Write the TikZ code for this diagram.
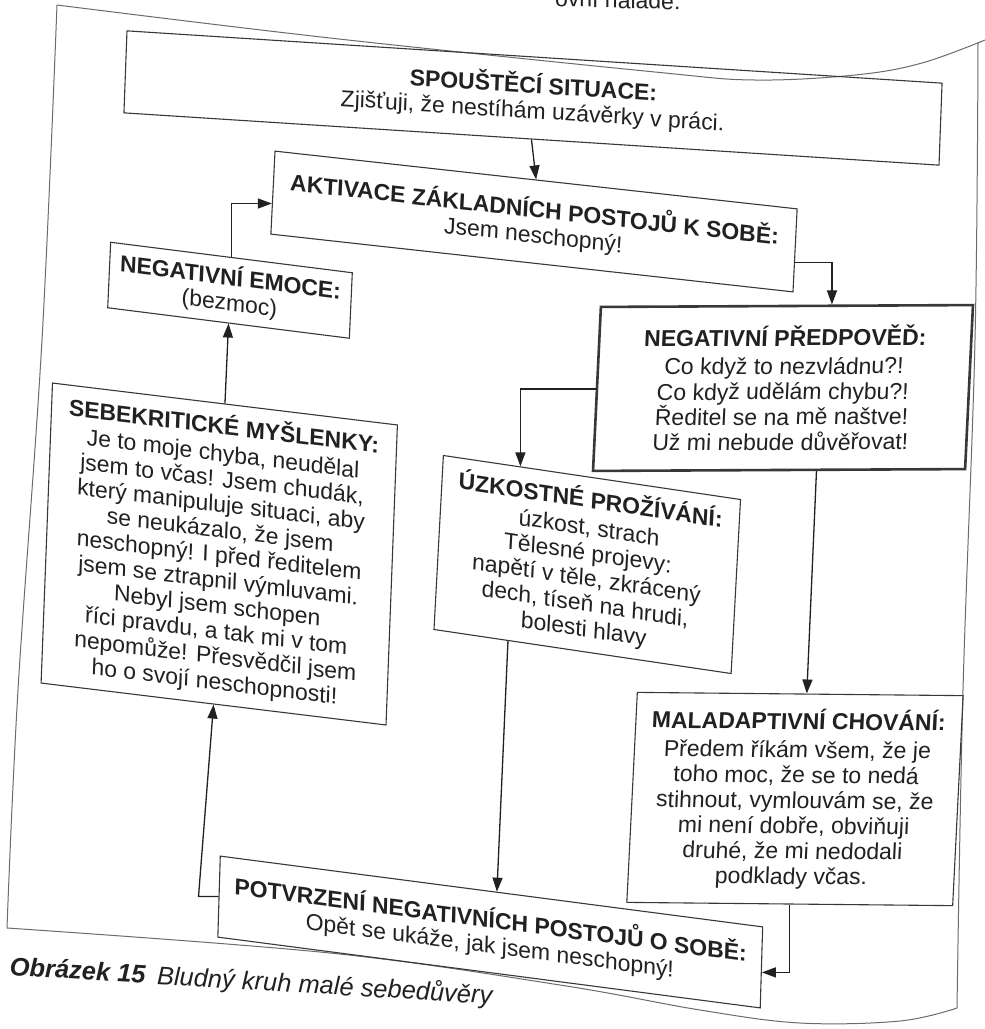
\documentclass[tikz,border=0pt]{standalone}
\usepackage{fontspec}
\setmainfont{Liberation Sans}
\usetikzlibrary{arrows.meta,calc}
\definecolor{ink}{gray}{0.13}
\definecolor{rule}{gray}{0.22}
\definecolor{pagerule}{gray}{0.42}
\begin{document}
\begin{tikzpicture}[x=1pt,y=-1pt,
  txt/.style={font=\fontsize{23}{25.3}\selectfont, text=ink},
  box/.style={txt, draw=rule, line width=1.1pt, align=center, inner sep=3pt},
  strongbox/.style={box, line width=2.6pt},
  flow/.style={draw=ink, line width=1.3pt, -{Triangle[length=14pt,width=10pt]}},
  frameline/.style={draw=pagerule, line width=1pt},
]
\useasboundingbox (0,0) rectangle (985,1029);
\fill[white] (0,0) rectangle (985,1029);
\begin{scope}
\clip (0,0) rectangle (985,1029);

% last line of the preceding paragraph, cut by the page top
\node[txt, anchor=base east, yslant=-0.03] (prevline) at (684,10) {ovní náladě.};

% page frame around the figure
\draw[frameline] plot[smooth, tension=0.6] coordinates
  {(57,5) (330,38) (655,72) (755,80) (855,75) (922,63) (990,38)};
\draw[frameline] plot[smooth, tension=0.6] coordinates
  {(978,42) (975,340) (963,690) (957,1008)};
\draw[frameline] plot[smooth, tension=0.6] coordinates
  {(957,1008) (900,1021) (800,1023) (700,1010) (560,985) (330,953) (7,928)};
\draw[frameline] plot[smooth, tension=0.6] coordinates
  {(7,928) (18,690) (42,340) (57,5)};

% boxes of the cycle
\node[box, xslant=0.037, yslant=-0.064, minimum width=817pt, minimum height=82pt]
  (trigger) at (533,98)
  {\textbf{SPOUŠTĚCÍ SITUACE:}\\ Zjišťuji, že nestíhám uzávěrky v práci.};

\node[box, xslant=0.05, yslant=-0.11, minimum width=525pt, minimum height=83pt]
  (activ) at (534,221.5)
  {\textbf{AKTIVACE ZÁKLADNÍCH POSTOJŮ K SOBĚ:}\\ Jsem neschopný!};

\node[box, xslant=0.045, yslant=-0.1255, minimum width=243pt, minimum height=65.5pt]
  (emoce) at (230,290.25)
  {\textbf{NEGATIVNÍ EMOCE:}\\ (bezmoc)};

\node[strongbox, xslant=0.048, yslant=0.005, minimum width=372pt, minimum height=164pt]
  (predpoved) at (783,388)
  {\textbf{NEGATIVNÍ PŘEDPOVĚĎ:}\\[3pt]
   Co když to nezvládnu?!\\ Co když udělám chybu?!\\
   Ředitel se na mě naštve!\\ Už mi nebude důvěřovat!};

\node[box, xslant=0.038, yslant=-0.121, minimum width=346.5pt, minimum height=300pt]
  (sebekrit) at (219.25,554)
  {\textbf{SEBEKRITICKÉ MYŠLENKY:}\\[2pt]
   Je to moje chyba, neudělal\\ jsem to včas! Jsem chudák,\\
   který manipuluje situaci, aby\\ se neukázalo, že jsem\\
   neschopný! I před ředitelem\\ jsem se ztrapnil výmluvami.\\
   Nebyl jsem schopen\\ říci pravdu, a tak mi v tom\\
   nepomůže! Přesvědčil jsem\\ ho o svojí neschopnosti!};

\node[box, xslant=0.054, yslant=-0.147, minimum width=299.5pt, minimum height=174pt]
  (uzkost) at (587.25,564.5)
  {\textbf{ÚZKOSTNÉ PROŽÍVÁNÍ:}\\[2pt]
   úzkost, strach\\ Tělesné projevy:\\ napětí v těle, zkrácený\\
   dech, tíseň na hrudi,\\ bolesti hlavy};

\node[box, xslant=0.05, yslant=-0.01, minimum width=326pt, minimum height=210pt]
  (malad) at (795,799)
  {\textbf{MALADAPTIVNÍ CHOVÁNÍ:}\\[3pt]
   Předem říkám všem, že je\\ toho moc, že se to nedá\\
   stihnout, vymlouvám se, že\\ mi není dobře, obviňuji\\
   druhé, že mi nedodali\\ podklady včas.};

\node[box, xslant=0.03, yslant=-0.13, minimum width=544.5pt, minimum height=81pt]
  (potvrz) at (490.25,932)
  {\textbf{POTVRZENÍ NEGATIVNÍCH POSTOJŮ O SOBĚ:}\\ Opět se ukáže, jak jsem neschopný!};

% arrows of the vicious circle
\draw[flow] (trigger.south) -- (activ.north);
\draw[flow] ($(activ.north east)!0.64!(activ.south east)$)
  -| ($(predpoved.north west)!0.62!(predpoved.north east)$);
\draw[flow] (predpoved.west)
  -| ($(uzkost.north west)!0.26!(uzkost.north east)$);
\draw[flow] ($(predpoved.south west)!0.6!(predpoved.south east)$)
  -- ($(malad.north west)!0.52!(malad.north east)$);
\draw[flow] ($(uzkost.south west)!0.25!(uzkost.south east)$)
  -- ($(potvrz.north west)!0.51!(potvrz.north east)$);
\draw[flow] (malad.south)
  |- ($(potvrz.north east)!0.56!(potvrz.south east)$);
\draw[flow] (potvrz.west) -- ++(-20,0) -- (sebekrit.south);
\draw[flow] (sebekrit.north) -- (emoce.south);
\draw[flow] (emoce.north) |- ($(activ.north west)!0.63!(activ.south west)$);

% figure caption
\node[anchor=base west, xslant=0.03, yslant=-0.06, text=ink,
      font=\fontsize{25.5}{28}\selectfont\itshape] (caption) at (6,975)
  {\textbf{Obrázek 15}\hspace{0.45em}Bludný kruh malé sebedůvěry};
\end{scope}
\end{tikzpicture}
\end{document}
